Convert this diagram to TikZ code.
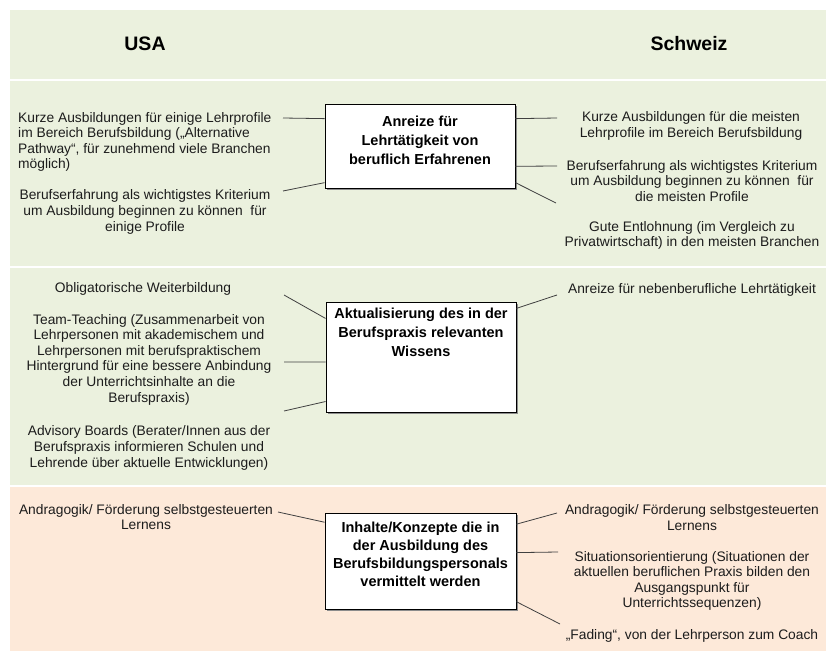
\documentclass[tikz,border=0pt]{standalone}
\usepackage{fontspec}
\setmainfont{Liberation Sans}
\usetikzlibrary{positioning,shadows}
\definecolor{BandGreen}{RGB}{235,241,222}
\definecolor{BandPeach}{RGB}{253,233,217}
\definecolor{LinkGray}{RGB}{64,64,64}
\definecolor{TextGray}{RGB}{28,28,28}

\begin{document}
\begin{tikzpicture}[
    x=1pt, y=-1pt,
    hdr/.style={font=\fontsize{19.5}{22}\selectfont\bfseries, text=black},
    txt/.style={font=\fontsize{13.8}{15.6}\selectfont, text=TextGray, align=center, inner sep=0pt},
    txtl/.style={txt, align=left, anchor=west},
    cbox/.style={draw=black, line width=0.9pt, fill=white, drop shadow={shadow xshift=1.6pt, shadow yshift=-1.6pt, fill=black!45, opacity=1}},
    ctitle/.style={font=\fontsize{14.5}{19}\selectfont\bfseries, align=center, inner sep=0pt},
    link/.style={draw=LinkGray, line width=0.8pt}
  ]
    \useasboundingbox (0,0) rectangle (828,651);
    % bands
    \foreach \t/\b/\c in {10/79/BandGreen,81/266/BandGreen,268/485/BandGreen,487/651/BandPeach}
      {\fill[\c] (10,\t) rectangle (826,\b);}
    \node[hdr] (usa) at (145,44) {USA};
    \node[hdr] (ch) at (689,44) {Schweiz};

    % Anreize
    \node[txtl] (kurzL) at (18,142) {Kurze Ausbildungen für einige Lehrprofile\\im Bereich Berufsbildung („Alternative\\Pathway“, für zunehmend viele Branchen\\möglich)};
    \node[txt] (berufL) at (145,212) {Berufserfahrung als wichtigstes Kriterium\\um Ausbildung beginnen zu können \ für\\einige Profile};
    \node[txt] (kurzR) at (691,126) {Kurze Ausbildungen für die meisten\\Lehrprofile im Bereich Berufsbildung};
    \node[txt] (berufR) at (692,181) {Berufserfahrung als wichtigstes Kriterium\\um Ausbildung beginnen zu können \ für\\die meisten Profile};
    \node[txt] (lohnR) at (692,235.5) {Gute Entlohnung (im Vergleich zu\\Privatwirtschaft) in den meisten Branchen};

    % Aktualisierung
    \node[txt] (obligL) at (143,289) {Obligatorische Weiterbildung};
    \node[txt] (teamL) at (149,359.5) {Team-Teaching (Zusammenarbeit von\\Lehrpersonen mit akademischem und\\Lehrpersonen mit berufspraktischem\\Hintergrund für eine bessere Anbindung\\der Unterrichtsinhalte an die\\Berufspraxis)};
    \node[txt] (advL) at (149,448) {Advisory Boards (Berater/Innen aus der\\Berufspraxis informieren Schulen und\\Lehrende über aktuelle Entwicklungen)};
    \node[txt] (nebenR) at (692,290) {Anreize für nebenberufliche Lehrtätigkeit};

    % Inhalte
    \node[txt] (andraL) at (146,517) {Andragogik/ Förderung selbstgesteuerten\\Lernens};
    \node[txt] (andraR) at (692,517.5) {Andragogik/ Förderung selbstgesteuerten\\Lernens};
    \node[txt] (situR) at (692,581) {Situationsorientierung (Situationen der\\aktuellen beruflichen Praxis bilden den\\Ausgangspunkt für\\Unterrichtssequenzen)};
    \node[txt] (fadR) at (692,636) {„Fading“, von der Lehrperson zum Coach};

    % center boxes
    \node[cbox, minimum width=190pt, minimum height=84pt] (anr) at (420,146) {};
    \node[ctitle, below=12pt of anr.north] (anrT) {Anreize für\\Lehrtätigkeit von\\beruflich Erfahrenen};
    \node[cbox, minimum width=190pt, minimum height=110pt] (akt) at (421,357) {};
    \node[ctitle, below=6.5pt of akt.north] (aktT) {Aktualisierung des in der\\Berufspraxis relevanten\\Wissens};
    \node[cbox, minimum width=191pt, minimum height=96pt] (inh) at (420.5,561) {};
    \node[ctitle, font=\fontsize{14.5}{18}\selectfont\bfseries, below=9pt of inh.north] (inhT) {Inhalte/Konzepte die in\\der Ausbildung des\\Berufsbildungspersonals\\vermittelt werden};

    % loose ends of the links
    \coordinate (anrL1) at (283,118);
    \coordinate (anrL2) at (283,191);
    \coordinate (anrR1) at (557,118);
    \coordinate (anrR2) at (557,166);
    \coordinate (anrR3) at (556,203);
    \coordinate (aktL1) at (284,295);
    \coordinate (aktL2) at (284,362);
    \coordinate (aktL3) at (284,411);
    \coordinate (aktR1) at (557,295);
    \coordinate (inhL1) at (278,512);
    \coordinate (inhR1) at (557,513);
    \coordinate (inhR2) at (558,552);
    \coordinate (inhR3) at (560,624);
    \foreach \b/\s/\a in {anr/L1/164,anr/L2/201,anr/R1/16,anr/R2/348,anr/R3/339,akt/L1/158,akt/L2/183,akt/L3/205,akt/R1/27,inh/L1/158,inh/R1/21,inh/R2/5,inh/R3/337}
      {\draw[link] (\b\s) -- (\b.\a);}
\end{tikzpicture}
\end{document}
